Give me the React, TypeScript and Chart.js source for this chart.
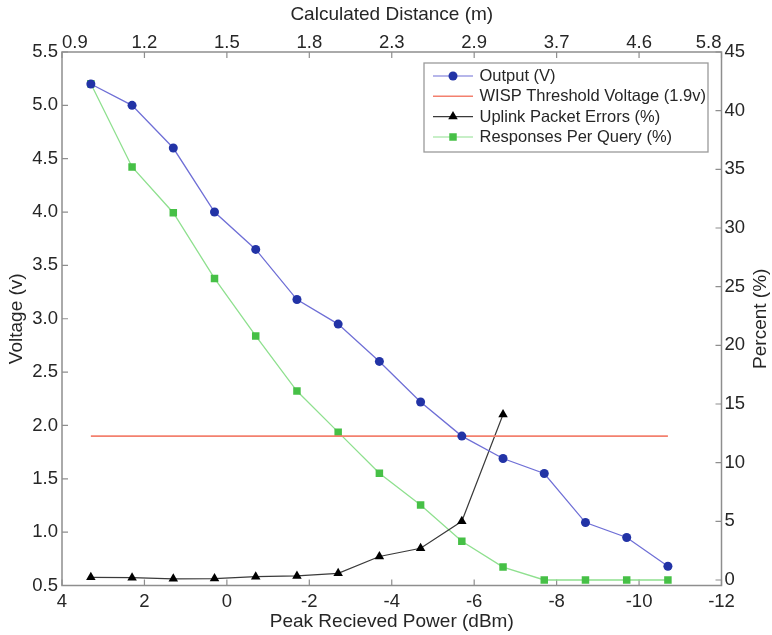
import React, { useEffect, useRef } from 'react';
import { Chart, registerables } from 'chart.js';

Chart.register(...registerables);

// ---- data ----
const powerDbm = [3.3, 2.3, 1.3, 0.3, -0.7, -1.7, -2.7, -3.7, -4.7, -5.7, -6.7, -7.7, -8.7, -9.7, -10.7];
const outputV = [5.2, 5.0, 4.6, 4.0, 3.65, 3.18, 2.95, 2.6, 2.22, 1.9, 1.69, 1.55, 1.09, 0.95, 0.68];
const thresholdX = [3.3, -10.7];
const thresholdV = [1.9, 1.9];
const uplinkX = [3.3, 2.3, 1.3, 0.3, -0.7, -1.7, -2.7, -3.7, -4.7, -5.7, -6.7];
const uplinkErrorsPct = [0.23, 0.2, 0.1, 0.12, 0.28, 0.35, 0.57, 2.0, 2.7, 5.0, 14.1];
const responsesPct = [42.3, 35.2, 31.3, 25.7, 20.8, 16.1, 12.6, 9.1, 6.4, 3.3, 1.1, 0, 0, 0, 0];
const distanceLabels = ['0.9', '1.2', '1.5', '1.8', '2.3', '2.9', '3.7', '4.6', '5.8'];

const seriesNames = ['Output (V)', 'WISP Threshold Voltage (1.9v)', 'Uplink Packet Errors (%)', 'Responses Per Query (%)'];

const FONT = '"Liberation Sans", Arial, Helvetica, sans-serif';
const TXT = '#262626';
const AXIS = '#8e8e8e';
const BLUE_LINE = '#6f6fd6';
const BLUE_MARK = '#2233a6';
const RED_LINE = '#f3806e';
const BLACK_LINE = '#3a3a3a';
const BLACK_MARK = '#000000';
const GREEN_LINE = '#8fe08f';
const GREEN_MARK = '#46c046';

function drawMarker(ctx: CanvasRenderingContext2D, style: string, x: number, y: number, r: number, color: string) {
  ctx.save();
  ctx.fillStyle = color;
  ctx.beginPath();
  if (style === 'circle') {
    ctx.arc(x, y, r, 0, Math.PI * 2);
  } else if (style === 'triangle') {
    for (let k = 0; k < 3; k++) {
      const a = (k * 2 * Math.PI) / 3;
      const px = x + Math.sin(a) * r;
      const py = y - Math.cos(a) * r;
      if (k === 0) ctx.moveTo(px, py);
      else ctx.lineTo(px, py);
    }
    ctx.closePath();
  } else if (style === 'rect') {
    const s = r * Math.SQRT1_2;
    ctx.rect(x - s, y - s, 2 * s, 2 * s);
  }
  ctx.fill();
  ctx.restore();
}

const axesPlugin = {
  id: 'matlabAxes',
  beforeDatasetsDraw(chart: any) {
    const { ctx, chartArea: a, scales } = chart;
    ctx.save();
    ctx.strokeStyle = AXIS;
    ctx.lineWidth = 1.5;
    ctx.strokeRect(a.left, a.top, a.right - a.left, a.bottom - a.top);
    ctx.lineWidth = 1.2;
    const tl = 6;
    ctx.beginPath();
    scales.x.ticks.forEach((t: any) => {
      const px = scales.x.getPixelForValue(t.value);
      ctx.moveTo(px, a.bottom);
      ctx.lineTo(px, a.bottom - tl);
    });
    scales.x2.ticks.forEach((t: any) => {
      const px = scales.x2.getPixelForValue(t.value);
      ctx.moveTo(px, a.top);
      ctx.lineTo(px, a.top + tl);
    });
    scales.y.ticks.forEach((t: any) => {
      const py = scales.y.getPixelForValue(t.value);
      ctx.moveTo(a.left, py);
      ctx.lineTo(a.left + tl, py);
    });
    scales.y1.ticks.forEach((t: any) => {
      const py = scales.y1.getPixelForValue(t.value);
      ctx.moveTo(a.right, py);
      ctx.lineTo(a.right - tl, py);
    });
    ctx.stroke();
    ctx.restore();
  },
  afterDraw(chart: any) {
    const { ctx, chartArea: a } = chart;
    // right axis title (reads bottom to top)
    ctx.save();
    ctx.fillStyle = TXT;
    ctx.font = `19px ${FONT}`;
    ctx.translate(760.5, (a.top + a.bottom) / 2);
    ctx.rotate(-Math.PI / 2);
    ctx.textAlign = 'center';
    ctx.textBaseline = 'middle';
    ctx.fillText('Percent (%)', 0, 0);
    ctx.restore();

    // legend box
    const bx = 424, by = 63, bw = 284, bh = 89;
    ctx.save();
    ctx.fillStyle = '#ffffff';
    ctx.fillRect(bx, by, bw, bh);
    ctx.strokeStyle = '#9a9a9a';
    ctx.lineWidth = 1.3;
    ctx.strokeRect(bx, by, bw, bh);
    const items = [
      { line: BLUE_LINE, mark: BLUE_MARK, style: 'circle', r: 4.5 },
      { line: RED_LINE, mark: null, style: '', r: 0 },
      { line: BLACK_LINE, mark: BLACK_MARK, style: 'triangle', r: 5.5 },
      { line: GREEN_LINE, mark: GREEN_MARK, style: 'rect', r: 5.3 },
    ];
    const rowY = [76, 96.3, 116.6, 137];
    ctx.font = `16.5px ${FONT}`;
    ctx.textBaseline = 'middle';
    ctx.textAlign = 'left';
    items.forEach((it, i) => {
      const y = rowY[i];
      ctx.strokeStyle = it.line;
      ctx.lineWidth = i === 1 ? 1.5 : 1.2;
      ctx.beginPath();
      ctx.moveTo(433, y);
      ctx.lineTo(473, y);
      ctx.stroke();
      if (it.mark) drawMarker(ctx, it.style, 453, y, it.r, it.mark);
      ctx.fillStyle = TXT;
      ctx.fillText(seriesNames[i], 479.5, y + 0.5);
    });
    ctx.restore();
  },
};

export default function App() {
  const canvasRef = useRef<HTMLCanvasElement | null>(null);

  useEffect(() => {
    document.body.style.margin = '0';
    const canvas = canvasRef.current;
    if (!canvas) return;
    const tickFont = { family: FONT, size: 18.5 };
    const titleFont = { family: FONT, size: 19 };

    const chart = new Chart(canvas, {
      type: 'line',
      data: {
        datasets: [
          {
            label: seriesNames[0],
            data: powerDbm.map((x, i) => ({ x, y: outputV[i] })),
            xAxisID: 'x',
            yAxisID: 'y',
            borderColor: BLUE_LINE,
            borderWidth: 1.3,
            pointStyle: 'circle',
            pointRadius: 4.5,
            pointBackgroundColor: BLUE_MARK,
            pointBorderColor: BLUE_MARK,
            pointBorderWidth: 0,
            tension: 0,
          },
          {
            label: seriesNames[1],
            data: thresholdX.map((x, i) => ({ x, y: thresholdV[i] })),
            xAxisID: 'x',
            yAxisID: 'y',
            borderColor: RED_LINE,
            borderWidth: 1.6,
            pointRadius: 0,
            tension: 0,
          },
          {
            label: seriesNames[2],
            data: uplinkX.map((x, i) => ({ x, y: uplinkErrorsPct[i] })),
            xAxisID: 'x',
            yAxisID: 'y1',
            borderColor: BLACK_LINE,
            borderWidth: 1.2,
            pointStyle: 'triangle',
            pointRadius: 5.5,
            pointBackgroundColor: BLACK_MARK,
            pointBorderColor: BLACK_MARK,
            pointBorderWidth: 0,
            tension: 0,
          },
          {
            label: seriesNames[3],
            data: powerDbm.map((x, i) => ({ x, y: responsesPct[i] })),
            xAxisID: 'x',
            yAxisID: 'y1',
            borderColor: GREEN_LINE,
            borderWidth: 1.3,
            pointStyle: 'rect',
            pointRadius: 5.3,
            pointBackgroundColor: GREEN_MARK,
            pointBorderColor: GREEN_MARK,
            pointBorderWidth: 0,
            tension: 0,
          },
        ],
      },
      options: {
        responsive: false,
        animation: false,
        devicePixelRatio: 1,
        layout: { padding: 0 },
        plugins: { legend: { display: false }, tooltip: { enabled: false } },
        scales: {
          x: {
            type: 'linear',
            position: 'bottom',
            reverse: true,
            min: -12,
            max: 4,
            grid: { display: false, drawTicks: false },
            border: { display: false },
            ticks: { stepSize: 2, autoSkip: false, maxRotation: 0, padding: 5, color: TXT, font: tickFont },
            title: { display: true, text: 'Peak Recieved Power (dBm)', color: TXT, font: titleFont, padding: { top: 0, bottom: 2 } },
            afterFit: (s: any) => { s.height = 49.5; },
          },
          x2: {
            type: 'linear',
            position: 'top',
            min: 0,
            max: distanceLabels.length - 1,
            grid: { display: false, drawTicks: false },
            border: { display: false },
            ticks: {
              stepSize: 1,
              autoSkip: false,
              maxRotation: 0,
              padding: -2,
              align: 'inner',
              color: TXT,
              font: tickFont,
              callback: (v: any) => {
                const i = Math.round(Number(v));
                return distanceLabels[i] ?? '';
              },
            },
            title: { display: true, text: 'Calculated Distance (m)', color: TXT, font: titleFont, padding: { top: 3, bottom: 0 } },
            afterFit: (s: any) => { s.height = 52; },
          },
          y: {
            type: 'linear',
            position: 'left',
            min: 0.5,
            max: 5.5,
            grid: { display: false, drawTicks: false },
            border: { display: false },
            ticks: { stepSize: 0.5, padding: 4, color: TXT, font: tickFont, callback: (v: any) => Number(v).toFixed(1) },
            title: { display: true, text: 'Voltage (v)', color: TXT, font: titleFont, padding: { top: 5, bottom: 0 } },
            afterFit: (s: any) => { s.width = 62; },
          },
          y1: {
            type: 'linear',
            position: 'right',
            min: -0.47,
            max: 45,
            grid: { display: false, drawTicks: false },
            border: { display: false },
            ticks: { stepSize: 5, includeBounds: false, padding: 3, color: TXT, font: tickFont },
            title: { display: false },
            afterFit: (s: any) => { s.width = 50.5; },
          },
        },
      } as any,
      plugins: [axesPlugin],
    });
    return () => chart.destroy();
  }, []);

  return (
    <div style={{ width: 772, height: 635, background: '#ffffff' }}>
      <canvas ref={canvasRef} width={772} height={635} style={{ display: 'block' }} />
    </div>
  );
}
